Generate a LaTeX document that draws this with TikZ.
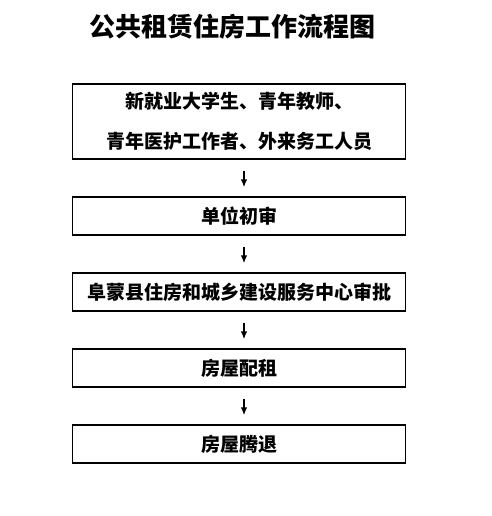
\documentclass[tikz,border=0pt]{standalone}
\usepackage{fontspec}
\newfontfamily\cjk{Noto Sans CJK SC}
\usetikzlibrary{positioning, arrows.meta}
\tikzset{
  flowbox/.style={draw, line width=1.2pt, minimum width=333pt, inner sep=0pt,
    font=\cjk\bfseries\fontsize{19}{40}\selectfont, align=center},
  flowarrow/.style={-{Latex[length=8pt,width=6.5pt]}, line width=1.6pt,
    shorten <=11pt, shorten >=9pt}
}
\begin{document}
\begin{tikzpicture}[x=1pt, y=-1pt]
    \useasboundingbox (0,0) rectangle (491,516);
    \node[font=\cjk\bfseries\fontsize{26}{30}\selectfont] (title) at (232, 27) {公共租赁住房工作流程图};
    \node[flowbox, minimum height=75pt] (apply)   at (239, 121.5) {新就业大学生、青年教师、\\青年医护工作者、外来务工人员};
    \node[flowbox, minimum height=38pt] (unit)    at (239, 216)   {单位初审};
    \node[flowbox, minimum height=38pt] (approve) at (239, 292)   {阜蒙县住房和城乡建设服务中心审批};
    \node[flowbox, minimum height=38pt] (assign)  at (239, 368)   {房屋配租};
    \node[flowbox, minimum height=38pt] (vacate)  at (239, 444)   {房屋腾退};
    \draw[flowarrow] ([xshift=5pt]apply.south)   -- ([xshift=5pt]unit.north);
    \draw[flowarrow] ([xshift=5pt]unit.south)    -- ([xshift=5pt]approve.north);
    \draw[flowarrow] ([xshift=5pt]approve.south) -- ([xshift=5pt]assign.north);
    \draw[flowarrow] ([xshift=5pt]assign.south)  -- ([xshift=5pt]vacate.north);
\end{tikzpicture}
\end{document}
